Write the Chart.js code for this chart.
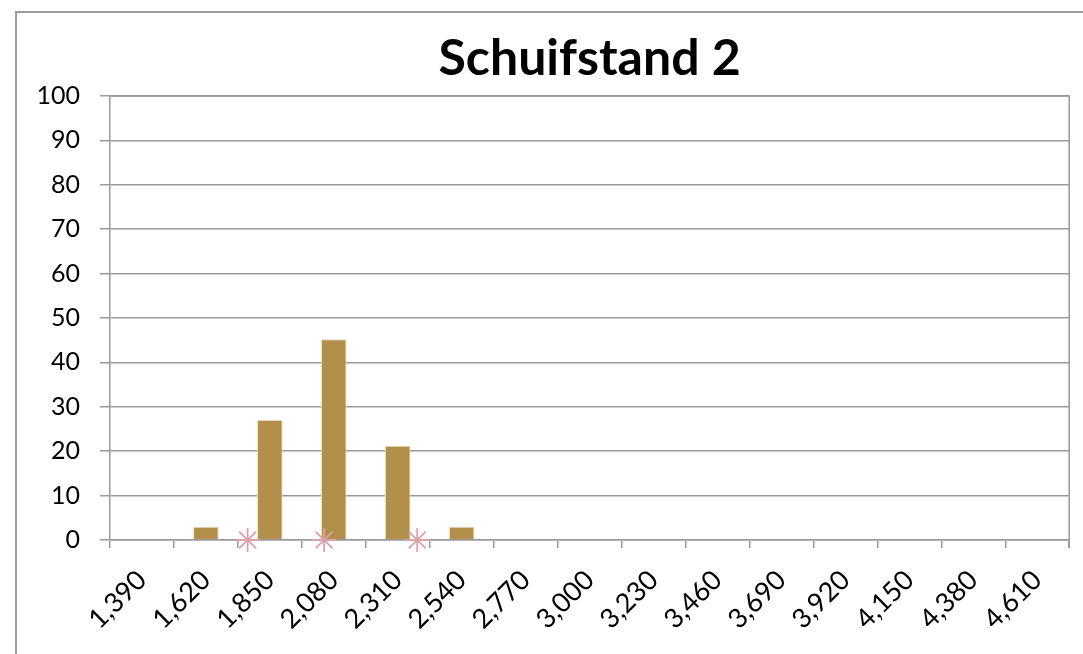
<!DOCTYPE html>
<html>
<head>
<meta charset="utf-8">
<script src="https://cdn.jsdelivr.net/npm/chart.js@4"></script>
<style>
  html, body { margin: 0; padding: 0; background: #fff; overflow: hidden; }
  #wrap { position: relative; width: 1083px; height: 654px; }
</style>
</head>
<body>
<div id="wrap"><canvas id="chart" width="1083" height="654"></canvas></div>
<script>
// category labels (x axis) and bar heights
const categories = ['1,390', '1,620', '1,850', '2,080', '2,310', '2,540', '2,770', '3,000',
                    '3,230', '3,460', '3,690', '3,920', '4,150', '4,380', '4,610'];
const barValues = [0, 3, 27, 45.2, 21.2, 3, 0, 0, 0, 0, 0, 0, 0, 0, 0];
// asterisk markers on the baseline (x in the same units as the categories)
const markerX = [1770, 2045, 2380];
const markerY = [0, 0, 0];
const yTicks = [0, 10, 20, 30, 40, 50, 60, 70, 80, 90, 100];

const catStep = 230;
const firstCat = 1390;
const markers = markerX.map((x, i) => ({ x: x, y: markerY[i] }));

// chart frame + plot-area border, like the spreadsheet look
const framePlugin = {
  id: 'frame',
  beforeDraw(chart) {
    const c = chart.ctx;
    c.save();
    c.strokeStyle = '#9a9a9a'; c.lineWidth = 2;
    c.strokeRect(16, 12, 1200, 800);
    c.restore();
  },
  beforeDatasetsDraw(chart) {
    const a = chart.chartArea, c = chart.ctx;
    c.save();
    c.strokeStyle = '#999'; c.lineWidth = 1.5;
    c.beginPath();
    c.moveTo(a.left, a.top); c.lineTo(a.right, a.top); c.lineTo(a.right, a.bottom + 8);
    c.stroke();
    c.restore();
  }
};

new Chart(document.getElementById('chart'), {
  type: 'bar',
  data: {
    labels: categories,
    datasets: [
      { type: 'scatter', data: markers, xAxisID: 'x2', order: 0, clip: false,
        pointStyle: 'star', radius: 12, hoverRadius: 12, borderColor: '#d9a2aa', borderWidth: 1.8,
        backgroundColor: '#d9a2aa' },
      { type: 'bar', data: barValues, xAxisID: 'x', order: 1, grouped: false,
        backgroundColor: '#b38f4c', borderColor: '#ecd9b4', borderWidth: 1,
        barPercentage: 0.4, categoryPercentage: 1.0 }
    ]
  },
  options: {
    responsive: false, animation: false,
    layout: { padding: { left: 0, right: 13, top: 0, bottom: 0 } },
    plugins: {
      legend: { display: false }, tooltip: { enabled: false },
      title: { display: true, text: 'Schuifstand 2', color: '#000', fullSize: false,
               font: { family: 'Lato', size: 50, weight: 'bold', lineHeight: 1.2 }, padding: { top: 29, bottom: 7 } }
    },
    scales: {
      x: {
        type: 'category', offset: true,
        grid: { offset: true, drawOnChartArea: false, drawTicks: true, tickLength: 8, color: '#999', lineWidth: 1.5 },
        border: { color: '#999', width: 1.5 },
        ticks: { color: '#000', font: { family: 'Lato', size: 27 }, minRotation: 45, maxRotation: 45, padding: 16, autoSkip: false },
        afterFit(s) { s.height = 114; }
      },
      x2: {
        type: 'linear', display: false, offset: false, grid: { offset: false },
        min: firstCat - catStep / 2, max: firstCat + catStep * (categories.length - 0.5)
      },
      y: {
        min: 0, max: 100,
        afterBuildTicks(s) { s.ticks = yTicks.map(v => ({ value: v })); },
        grid: { color: '#999', lineWidth: 1.5, tickLength: 10 },
        border: { color: '#999', width: 1.5 },
        ticks: { color: '#000', font: { family: 'Lato', size: 25 }, padding: 20 },
        afterFit(s) { s.width = 110; }
      }
    }
  },
  plugins: [framePlugin]
});
</script>
</body>
</html>
